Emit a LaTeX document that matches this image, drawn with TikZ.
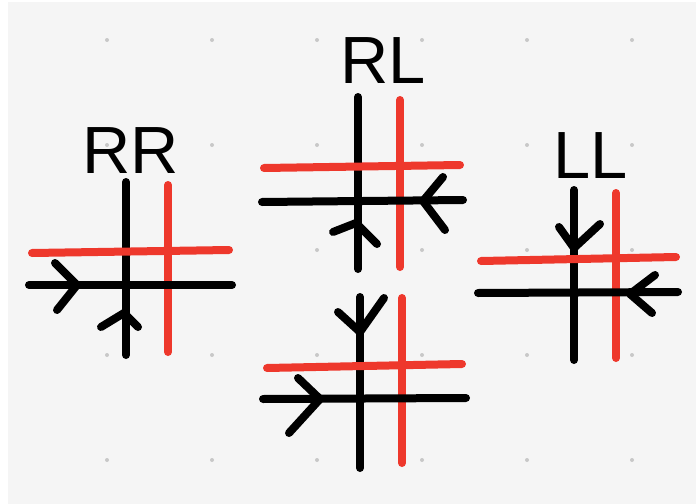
\documentclass[tikz,border=0pt]{standalone}
\usepackage{fontspec}
\setmainfont{Liberation Sans}
\usepackage{tikz}
\usetikzlibrary{positioning}
\definecolor{rojolinea}{RGB}{238,56,44}
\definecolor{fondo}{RGB}{245,245,245}
\definecolor{punto}{RGB}{200,200,200}

\begin{document}
\begin{tikzpicture}[
  x=0.03cm,y=-0.03cm,
  negro/.style={draw=black,line width=2.4mm,line cap=round,line join=round},
  rojo/.style={draw=rojolinea,line width=2.4mm,line cap=round},
  etiqueta/.style={anchor=base,inner sep=0pt,font=\fontsize{57}{57}\selectfont}
]
\useasboundingbox (0,0) rectangle (696,504);
\fill[white] (0,0) rectangle (696,504);
\fill[fondo] (8,2) rectangle (696,504);
% puntos de la grilla
\foreach \i in {107,212,...,632}
  \foreach \j in {40,145,...,460}
    \fill[punto] (\i,\j) circle (2);

% RR
\node[etiqueta] (rr) at (131,173) {RR};
\draw[negro] (126,182) -- (126,355);
\draw[rojo] (168,185) -- (168,352);
\draw[rojo] (32,253) -- (229,250);
\draw[negro] (29,285) -- (232,285);
\draw[negro] (55,263) -- (77,285) -- (57,310);
\draw[negro] (101,327) -- (124,313) -- (138,327);

% RL
\node[etiqueta] (rl) at (383,83) {RL};
\draw[negro] (358,97) -- (358,269);
\draw[rojo] (400,100) -- (400,267);
\draw[rojo] (264,168) -- (460,165);
\draw[negro] (262,202) -- (463,200);
\draw[negro] (443,177) -- (423,201) -- (445,230);
\draw[negro] (333,232) -- (356,223) -- (377,244);

% RL abajo
\draw[negro] (360,297) -- (360,468);
\draw[rojo] (402,298) -- (402,463);
\draw[rojo] (267,368) -- (462,364);
\draw[negro] (263,399) -- (466,398);
\draw[negro] (298,378) -- (320,399) -- (289,433);
\draw[negro] (338,312) -- (360,332) -- (384,298);

% LL
\node[etiqueta] (ll) at (591,178) {LL};
\draw[negro] (574,190) -- (574,360);
\draw[rojo] (616,193) -- (616,358);
\draw[rojo] (481,261) -- (676,257);
\draw[negro] (478,293) -- (678,292);
\draw[negro] (559,227) -- (574,248) -- (600,224);
\draw[negro] (655,275) -- (630,294) -- (652,313);
\end{tikzpicture}
\end{document}
